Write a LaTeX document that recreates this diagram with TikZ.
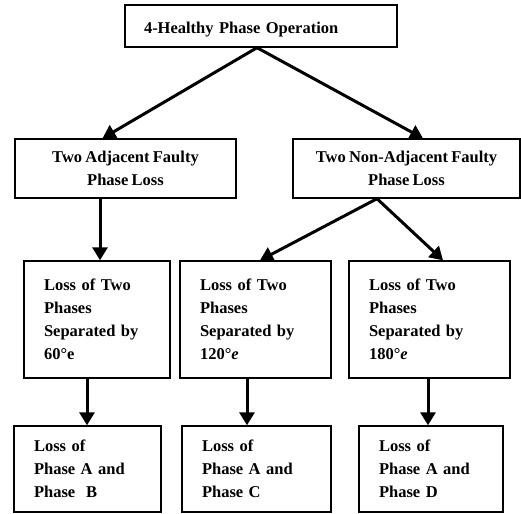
\documentclass[tikz,border=0pt]{standalone}
\usepackage{fontspec}
\setmainfont{Liberation Serif}[WordSpace=0.8]
\usetikzlibrary{arrows.meta,calc}
\tikzset{
  box/.style={draw=black, line width=1.4pt, rectangle, inner ysep=0pt,
    font=\fontsize{16.5}{23}\selectfont\bfseries},
  lbox/.style={box, align=left, inner xsep=20pt},
  cbox/.style={box, align=center, inner xsep=4pt},
  arr/.style={line width=3pt, -{Triangle[length=13pt,width=15pt]}}
}
\begin{document}
\begin{tikzpicture}[x=1pt,y=-1pt]
\useasboundingbox[fill=white] (0,0) rectangle (521,513);
% top
\node[box, align=left, inner xsep=19pt, text width=234pt, minimum height=42pt] (top) at (261,26) {\raisebox{-3.5pt}[\height][\depth]{4-Healthy Phase Operation}};
% level 1
\node[cbox, minimum width=221pt, minimum height=59pt] (adj) at (125.5,168.5) {Two Adjacent Faulty\\Phase Loss};
\node[cbox, minimum width=227pt, minimum height=59pt] (nonadj) at (406.5,168.5) {Two Non-Adjacent Faulty\\Phase Loss};
% level 2
\node[lbox, text width=106pt, minimum height=117pt] (sa) at (97,319.5) {Loss of Two\\Phases\\Separated by\\60°e};
\node[lbox, text width=111pt, minimum height=117pt] (sb) at (255.5,319.5) {Loss of Two\\Phases\\Separated by\\120°\textit{e}};
\node[lbox, text width=121pt, minimum height=117pt] (sc) at (429.5,319.5) {Loss of Two\\Phases\\Separated by\\180°\textit{e}};
% level 3
\node[lbox, text width=107pt, minimum height=86pt] (la) at (87.5,469) {Loss of\\Phase A and\\Phase\ \ B};
\node[lbox, text width=109pt, minimum height=86pt] (lb) at (256.5,469) {Loss of\\Phase A and\\Phase C};
\node[lbox, text width=104pt, minimum height=86pt] (lc) at (431,469) {Loss of\\Phase A and\\Phase D};
% arrows
\draw[arr] ([xshift=-4pt]top.south) -- ([xshift=-23pt]adj.north);
\draw[arr] ([xshift=-4pt]top.south) -- ([xshift=16.5pt]nonadj.north);
\draw[arr] ([xshift=-25.5pt]adj.south) -- ([xshift=3pt]sa.north);
\draw[arr] ([xshift=-29.5pt]nonadj.south) -- ([xshift=4.5pt]sb.north);
\draw[arr] ([xshift=-29.5pt]nonadj.south) -- ([xshift=13.5pt]sc.north);
\draw[arr] ([xshift=-10pt]sa.south) -- ([xshift=-0.5pt]la.north);
\draw[arr] ([xshift=-8.5pt]sb.south) -- ([xshift=-9.5pt]lb.north);
\draw[arr] ([xshift=-1.5pt]sc.south) -- ([xshift=-3pt]lc.north);
\end{tikzpicture}
\end{document}
